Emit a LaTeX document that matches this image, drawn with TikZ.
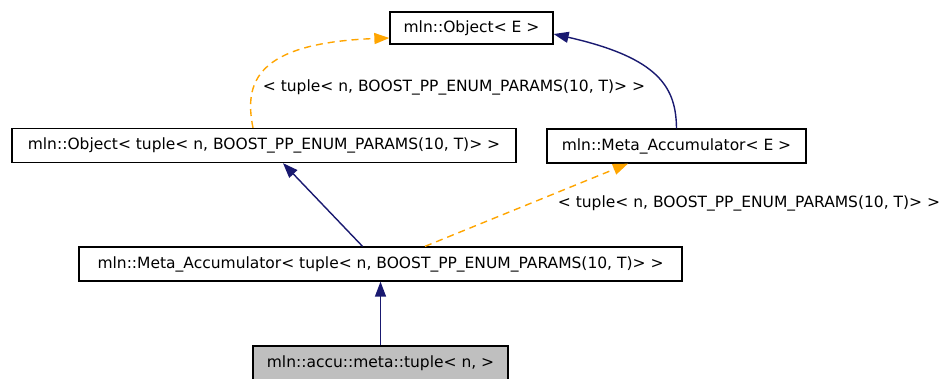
\documentclass[tikz,border=0pt]{standalone}
\usepackage{fontspec}
\setmainfont{DejaVu Sans}
\usetikzlibrary{arrows.meta}
\definecolor{navyedge}{HTML}{191970}
\definecolor{orangeedge}{HTML}{FFA500}
\definecolor{graybox}{HTML}{BFBFBF}

\begin{document}
\begin{tikzpicture}[x=1pt,y=1pt,
    cls/.style={draw=black,line width=1.3pt,minimum height=34pt,inner sep=0pt,font=\fontsize{15.5}{18}\selectfont},
    lbl/.style={inner sep=0pt,font=\fontsize{15.5}{18}\selectfont},
    inherit/.style={navyedge,line width=1.4pt,-{Triangle[length=15pt,width=11pt]}},
    templ/.style={orangeedge,line width=1.4pt,dash pattern=on 7pt off 5pt,-{Triangle[length=15pt,width=11pt]}}]
    \useasboundingbox (0,0) rectangle (944,378);
    % Draw classes
    \node[cls,minimum width=163pt,minimum height=32pt] (obj) at (471.5,350) {mln::Object< E >};
    \node[cls,minimum width=504pt] (objtup) at (264,232.5) {mln::Object< tuple< n, BOOST\_PP\_ENUM\_PARAMS(10, T)> >};
    \node[cls,minimum width=259pt] (metaE) at (676.5,232) {mln::Meta\_Accumulator< E >};
    \node[cls,minimum width=603pt] (metatup) at (380.5,114) {mln::Meta\_Accumulator< tuple< n, BOOST\_PP\_ENUM\_PARAMS(10, T)> >};
    \node[cls,fill=graybox,minimum width=255pt] (tup) at (380.5,15) {mln::accu::meta::tuple< n, >};

    % Draw edges
    \draw[templ] ([xshift=-11pt]objtup.north) .. controls (244,295) and (255,335) .. ([yshift=-10pt]obj.west); % template instance
    \draw[inherit] (metaE.north) .. controls (676,290) and (660,320) .. ([yshift=-6pt]obj.east); % base of metaE
    \draw[inherit] ([xshift=-18pt]metatup.north) -- ([xshift=19pt]objtup.south);
    \draw[templ] ([xshift=44.5pt]metatup.north) -- ([xshift=-48.5pt]metaE.south); % template instance
    \draw[inherit] (tup.north) -- (metatup.south);

    % Label edges
    \node[lbl] (lblobj) at (454,291) {< tuple< n, BOOST\_PP\_ENUM\_PARAMS(10, T)> >};
    \node[lbl] (lblmeta) at (749,175) {< tuple< n, BOOST\_PP\_ENUM\_PARAMS(10, T)> >};
\end{tikzpicture}
\end{document}
